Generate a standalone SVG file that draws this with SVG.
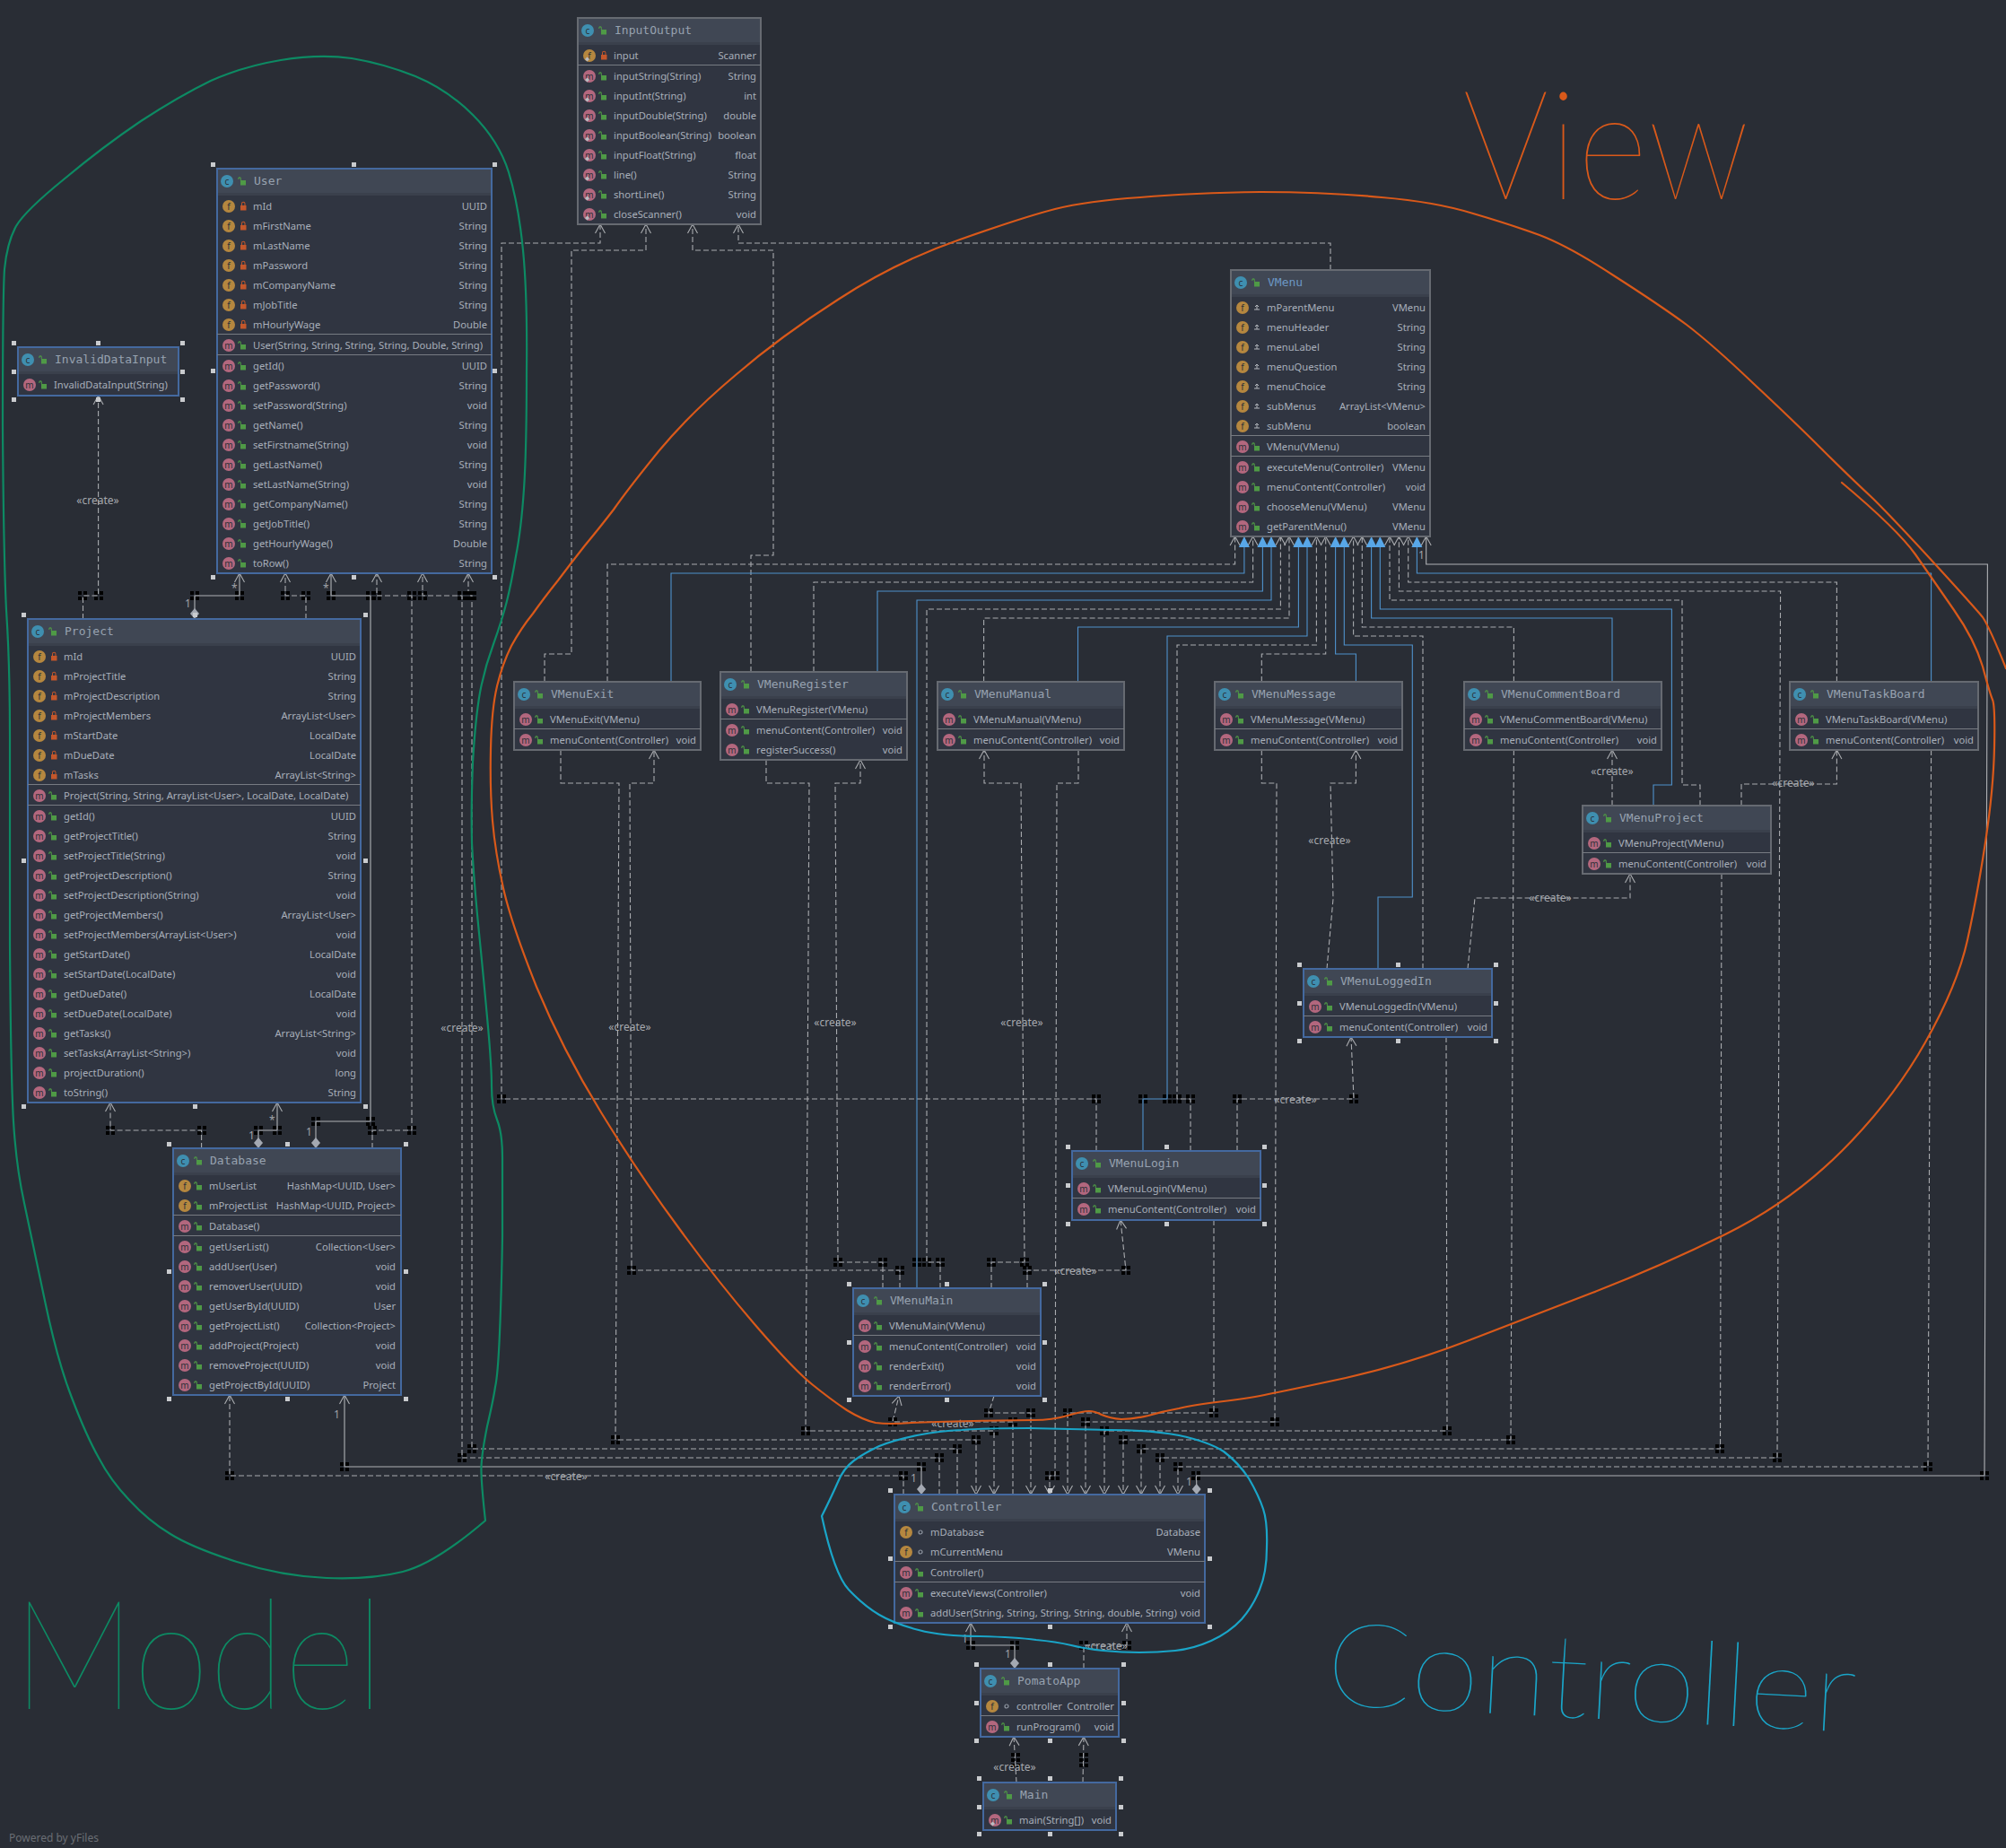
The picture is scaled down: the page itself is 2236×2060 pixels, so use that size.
<svg xmlns="http://www.w3.org/2000/svg" width="2236" height="2060" viewBox="0 0 2236 2060">
<style>
text{font-family:"Noto Sans","Liberation Sans",sans-serif;font-size:11.2px;fill:#a8afba}
.v{text-anchor:end}
.h{font-family:"DejaVu Sans Mono","Liberation Mono",monospace;font-size:13px;fill:#97a2b0}
.ic{font-size:10px;text-anchor:middle;fill:#2b3038}
.n{fill:#303541;stroke:#666a71;stroke-width:1.2;shape-rendering:crispEdges}
.sel{stroke:#44699f;stroke-width:1.6}
.hd{fill:url(#hg)}
.s{stroke:#777b82;fill:none;stroke-width:1;shape-rendering:crispEdges}
.hs{fill:#c9cbce;shape-rendering:crispEdges}
.da,.bl,.gr{fill:none;stroke-width:1.1}
.da{stroke:#a9abaf;stroke-dasharray:6 3}
.bl{stroke:#4f92cc}
.gr{stroke:#b0b2b6}
.lb{fill:#a0a3a8;font-size:12px}
.cl{text-anchor:middle;font-size:12px;fill:#a6a9ae}
.sk{fill:none;stroke-width:2.2;stroke-linejoin:round;stroke-linecap:round}
.w{font-family:"Lato","Noto Sans",sans-serif;font-weight:100}
</style>
<defs>
<linearGradient id="hg" x1="0" y1="0" x2="0" y2="1"><stop offset="0" stop-color="#404754"/><stop offset=".9" stop-color="#404754"/><stop offset=".9" stop-color="#3a404c"/><stop offset="1" stop-color="#3a404c"/></linearGradient>
<marker id="o" markerUnits="userSpaceOnUse" markerWidth="14" markerHeight="14" refX="11" refY="6" orient="auto-start-reverse" overflow="visible"><path d="M1 0.5L11 6L1 11.5" fill="none" stroke="#a9abaf" stroke-width="1.1"/></marker>
<marker id="t" markerUnits="userSpaceOnUse" markerWidth="14" markerHeight="14" refX="12" refY="6" orient="auto" overflow="visible"><path d="M0 0L12 6L0 12z" fill="#58a7e8"/></marker>
<marker id="d" markerUnits="userSpaceOnUse" markerWidth="14" markerHeight="12" refX="0" refY="5" orient="auto" overflow="visible"><path d="M0 5L6 0L12 5L6 10z" fill="#a4a9b2"/></marker>
<g id="b"><path d="M-5-5h4v4h-4zM1-5h4v4h-4zM-5 1h4v4h-4zM1 1h4v4h-4z" fill="#000"/></g>
<path id="lg" d="M26-1h6v5.500h-6zM26.800-1v-2.300a1.800 1.800 0 0 0-3.500 0v1.300h1v-1.100a.8.8 0 0 1 1.500 0v2.100z" fill="#4f9a46"/>
<path id="lr" d="M26-1h6.500v5.500h-6.500zM27-1v-2a2.200 2.200 0 0 1 4.500 0v2h-1v-2a1.200 1.200 0 0 0-2.500 0v2z" fill="#c4572b"/>
<g id="c"><circle cx="11" cy="14" r="7" fill="#3f8fb0"/><text class="ic" x="11" y="17.500">c</text><use href="#lg" x="0" y="14"/></g>
<g id="m"><circle cx="13" r="7" fill="#b3677e"/><text class="ic" x="13" y="3.500">m</text><use href="#lg"/></g>
<g id="f"><circle cx="13" r="7" fill="#b5873f"/><text class="ic" x="13" y="3.500">f</text><use href="#lr"/></g>
<g id="g"><circle cx="13" r="7" fill="#b5873f"/><text class="ic" x="13" y="3.500">f</text><use href="#lg"/></g>
<g id="e"><circle cx="13" r="7" fill="#b5873f"/><text class="ic" x="13" y="3.500">f</text><circle cx="29" cy="0" r="2" fill="none" stroke="#8f96a1" stroke-width="1.200"/></g>
<g id="q"><circle cx="13" r="7" fill="#b5873f"/><text class="ic" x="13" y="3.500">f</text><path d="M26 2h6M29 2v-5M27-1l2-2 2 2" fill="none" stroke="#b3b7bd" stroke-width="1"/></g>
<path id="st" d="M8 4l2.500-2.500 2.500 2.500-2.500 2.500z" fill="#b9bcc2"/>
</defs>
<rect width="2236" height="2060" fill="#292d35"/>

<g id="connectors">
<g class="da" marker-end="url(#o)">
<path d="M677 760V629H1376.600V598"/><path d="M907 749V649H1396.600V598"/><path d="M1048 1436V1407H1033V679H1427.400V598"/><path d="M1096.600 760V689H1437V598"/><path d="M1327 1283V1225H1312V719H1467.400V598"/><path d="M1406.300 760V729H1477.700V598"/><path d="M1586 1080V709H1508.600V598"/><path d="M1687.400 760V699H1518.300V598"/><path d="M1895 898V875H1875V669H1549V598"/><path d="M2047.400 760V649H1569.700V598"/>
<path d="M1222 1283V1225H559V271H669V250"/><path d="M607 760V729H637V279H720V250"/><path d="M837 749V619H862V279H772V250"/><path d="M1483 301V271H823V250"/>
<path d="M625 836V873H690L686 1605H1088V1666"/><path d="M1003 1436V1416H704L702 873H729V836"/><path d="M854 847V873H902L898 1595H1108V1666"/><path d="M984 1436V1407H934L931 873H959V847"/><path d="M1202 836V873H1178L1176 1645H1170V1666"/><path d="M1105 1436V1407H1142L1138 873H1097V836"/><path d="M1406.300 836V873H1423L1421 1585H1210V1666"/><path d="M1479 1080L1486 1002L1483 873H1511.400V836"/><path d="M1612 1156L1613 1595H1231V1666"/><path d="M1636 1080L1644 1001H1817V974"/><path d="M1379 1283V1225H1509L1506 1156"/><path d="M1687.400 836L1684 1605H1252V1666"/><path d="M1797 898V836"/><path d="M1941 898V874H2047.400V836"/><path d="M1919 974L1917.500 1615H1272V1666"/><path d="M2152.600 836L2149 1635H1313V1666"/><path d="M1353 1360V1575H1190V1666"/><path d="M1145 1436V1416H1255L1249 1360"/><path d="M1108 1556L1102 1575H1149V1666"/><path d="M1129 1666V1585H995L1002 1556"/><path d="M1007 1666V1645H256V1555"/>
<path d="M415 1280V1260H459V664H420V639"/><path d="M224.600 1280V1260H123V1229"/><path d="M341 690V664H318V639"/><path d="M92.500 690V664H109.600V441"/><path d="M1208 1860V1834H1256V1809"/><path d="M1133 1987L1130 1936"/><path d="M1207 1987L1208 1936"/><path d="M1047 1666V1625H515V664H471V639"/><path d="M1067 1666V1615H526V664H522V639"/>
<path d="M1293 1666V1625H1981L1984.600 659H1559.400V598" marker-start="url(#o)"/>
</g>
<g class="bl" marker-end="url(#t)">
<path d="M748 760V639H1386.900V598"/><path d="M978 749V659H1407.400V598"/><path d="M1022 1436V669H1417V598"/><path d="M1201.500 760V699H1447.400V598"/><path d="M1274 1283V1225H1301V709H1457V598"/><path d="M1511.400 760V729H1488.600V598"/><path d="M1536 1080V1000H1574.300V719H1498.300V598"/><path d="M1797 760V689H1528.600V598"/><path d="M1843 898V875H1863.400V679H1538.300V598"/><path d="M2152.600 760V639H1579.400V598"/>
</g>
<g class="gr" marker-start="url(#d)" marker-end="url(#o)">
<path d="M217 690V664H267V639"/><path d="M352 1280V1250H413V664H369V639"/><path d="M288 1280V1260H309V1229"/><path d="M1027 1666V1635H384V1555"/><path d="M1131 1860V1834H1082V1809"/><path d="M1333.700 1666V1645H2212L2215.400 629H1589.700V598"/>
</g>
<g id="bends">
<use href="#b" x="92" y="664"/><use href="#b" x="110" y="664"/><use href="#b" x="217" y="664"/><use href="#b" x="267" y="664"/><use href="#b" x="318" y="664"/><use href="#b" x="341" y="664"/><use href="#b" x="369" y="664"/><use href="#b" x="413" y="664"/><use href="#b" x="420" y="664"/><use href="#b" x="459" y="664"/><use href="#b" x="471" y="664"/><use href="#b" x="515" y="664"/><use href="#b" x="522" y="664"/><use href="#b" x="526" y="664"/>
<use href="#b" x="123" y="1260"/><use href="#b" x="225" y="1260"/><use href="#b" x="288" y="1260"/><use href="#b" x="309" y="1260"/><use href="#b" x="415" y="1260"/><use href="#b" x="459" y="1260"/><use href="#b" x="352" y="1250"/><use href="#b" x="413" y="1250"/>
<use href="#b" x="515" y="1625"/><use href="#b" x="526" y="1615"/><use href="#b" x="384" y="1635"/><use href="#b" x="256" y="1645"/><use href="#b" x="686" y="1605"/><use href="#b" x="898" y="1595"/>
<use href="#b" x="995" y="1585"/><use href="#b" x="1102" y="1575"/><use href="#b" x="1149" y="1575"/><use href="#b" x="1129" y="1585"/><use href="#b" x="1108" y="1595"/><use href="#b" x="1088" y="1605"/><use href="#b" x="1067" y="1615"/><use href="#b" x="1047" y="1625"/><use href="#b" x="1027" y="1635"/><use href="#b" x="1007" y="1645"/><use href="#b" x="1170" y="1645"/><use href="#b" x="1176" y="1645"/><use href="#b" x="1190" y="1575"/><use href="#b" x="1210" y="1585"/><use href="#b" x="1231" y="1595"/><use href="#b" x="1252" y="1605"/><use href="#b" x="1272" y="1615"/><use href="#b" x="1293" y="1625"/><use href="#b" x="1313" y="1635"/><use href="#b" x="1333" y="1645"/><use href="#b" x="1353" y="1575"/><use href="#b" x="1421" y="1585"/>
<use href="#b" x="1613" y="1595"/><use href="#b" x="1684" y="1605"/><use href="#b" x="1917" y="1615"/><use href="#b" x="1981" y="1625"/><use href="#b" x="2149" y="1635"/><use href="#b" x="2212" y="1645"/>
<use href="#b" x="559" y="1225"/><use href="#b" x="1222" y="1225"/><use href="#b" x="1274" y="1225"/><use href="#b" x="1301" y="1225"/><use href="#b" x="1312" y="1225"/><use href="#b" x="1327" y="1225"/><use href="#b" x="1379" y="1225"/><use href="#b" x="1509" y="1225"/><use href="#b" x="1255" y="1416"/>
<use href="#b" x="704" y="1416"/><use href="#b" x="1003" y="1416"/><use href="#b" x="934" y="1407"/><use href="#b" x="984" y="1407"/><use href="#b" x="1022" y="1407"/><use href="#b" x="1033" y="1407"/><use href="#b" x="1048" y="1407"/><use href="#b" x="1105" y="1407"/><use href="#b" x="1142" y="1407"/><use href="#b" x="1145" y="1416"/>
<use href="#b" x="1082" y="1834"/><use href="#b" x="1131" y="1834"/><use href="#b" x="1208" y="1834"/><use href="#b" x="1256" y="1834"/><use href="#b" x="1132" y="1959"/><use href="#b" x="1132" y="1965"/><use href="#b" x="1208" y="1959"/><use href="#b" x="1208" y="1965"/>
</g>
<g id="edge-labels">
<text class="cl" x="109" y="562">«create»</text><text class="cl" x="515" y="1150">«create»</text><text class="cl" x="702" y="1149">«create»</text><text class="cl" x="931" y="1144">«create»</text><text class="cl" x="1139" y="1144">«create»</text><text class="cl" x="1482" y="941">«create»</text><text class="cl" x="1797" y="864">«create»</text><text class="cl" x="1999" y="877">«create»</text><text class="cl" x="1728" y="1005">«create»</text><text class="cl" x="1444" y="1230">«create»</text><text class="cl" x="1199" y="1421">«create»</text><text class="cl" x="1062" y="1591">«create»</text><text class="cl" x="631" y="1650">«create»</text><text class="cl" x="1233" y="1839">«create»</text><text class="cl" x="1131" y="1974">«create»</text>
<text class="lb" x="258" y="660">*</text><text class="lb" x="206" y="677">1</text><text class="lb" x="360" y="660">*</text><text class="lb" x="341" y="1266">1</text><text class="lb" x="300" y="1253">*</text><text class="lb" x="277" y="1270">1</text><text class="lb" x="372" y="1581">1</text><text class="lb" x="1015" y="1652">1</text><text class="lb" x="1322" y="1656">1</text><text class="lb" x="1072" y="1831">1</text><text class="lb" x="1120" y="1848">1</text><text class="lb" x="1581" y="623">1</text>
</g>
</g>

<g id="InputOutput" transform="translate(644 20)"><rect class="n" width="204" height="230"/><rect class="hd" x="1" y="1" width="202" height="29"/><path class="s" d="M0 52H204"/><use href="#c"/><text class="h" x="41" y="18">InputOutput</text>
<use href="#f" y="42"/><use href="#st" y="42"/><text x="40" y="46">input</text><text class="v" x="199" y="46">Scanner</text>
<use href="#m" y="65"/><use href="#st" y="65"/><text x="40" y="69">inputString(String)</text><text class="v" x="199" y="69">String</text>
<use href="#m" y="87"/><use href="#st" y="87"/><text x="40" y="91">inputInt(String)</text><text class="v" x="199" y="91">int</text>
<use href="#m" y="109"/><use href="#st" y="109"/><text x="40" y="113">inputDouble(String)</text><text class="v" x="199" y="113">double</text>
<use href="#m" y="131"/><use href="#st" y="131"/><text x="40" y="135">inputBoolean(String)</text><text class="v" x="199" y="135">boolean</text>
<use href="#m" y="153"/><use href="#st" y="153"/><text x="40" y="157">inputFloat(String)</text><text class="v" x="199" y="157">float</text>
<use href="#m" y="175"/><use href="#st" y="175"/><text x="40" y="179">line()</text><text class="v" x="199" y="179">String</text>
<use href="#m" y="197"/><use href="#st" y="197"/><text x="40" y="201">shortLine()</text><text class="v" x="199" y="201">String</text>
<use href="#m" y="219"/><use href="#st" y="219"/><text x="40" y="223">closeScanner()</text><text class="v" x="199" y="223">void</text>
</g>

<g id="User" transform="translate(242 188)"><rect class="n sel" width="306" height="451"/><rect class="hd" x="1" y="1" width="304" height="29"/><path class="s" d="M0 184H306M0 207H306"/><use href="#c"/><text class="h" x="41" y="18">User</text>
<path class="hs" d="M-7-7h5v5h-5zM150-7h5v5h-5zM307-7h5v5h-5zM-7 223h5v5h-5zM307 223h5v5h-5zM-7 453h5v5h-5zM150 453h5v5h-5zM307 453h5v5h-5z"/>
<use href="#f" y="42"/><text x="40" y="46">mId</text><text class="v" x="301" y="46">UUID</text>
<use href="#f" y="64"/><text x="40" y="68">mFirstName</text><text class="v" x="301" y="68">String</text>
<use href="#f" y="86"/><text x="40" y="90">mLastName</text><text class="v" x="301" y="90">String</text>
<use href="#f" y="108"/><text x="40" y="112">mPassword</text><text class="v" x="301" y="112">String</text>
<use href="#f" y="130"/><text x="40" y="134">mCompanyName</text><text class="v" x="301" y="134">String</text>
<use href="#f" y="152"/><text x="40" y="156">mJobTitle</text><text class="v" x="301" y="156">String</text>
<use href="#f" y="174"/><text x="40" y="178">mHourlyWage</text><text class="v" x="301" y="178">Double</text>
<use href="#m" y="197"/><text x="40" y="201">User(String, String, String, String, Double, String)</text>
<use href="#m" y="220"/><text x="40" y="224">getId()</text><text class="v" x="301" y="224">UUID</text>
<use href="#m" y="242"/><text x="40" y="246">getPassword()</text><text class="v" x="301" y="246">String</text>
<use href="#m" y="264"/><text x="40" y="268">setPassword(String)</text><text class="v" x="301" y="268">void</text>
<use href="#m" y="286"/><text x="40" y="290">getName()</text><text class="v" x="301" y="290">String</text>
<use href="#m" y="308"/><text x="40" y="312">setFirstname(String)</text><text class="v" x="301" y="312">void</text>
<use href="#m" y="330"/><text x="40" y="334">getLastName()</text><text class="v" x="301" y="334">String</text>
<use href="#m" y="352"/><text x="40" y="356">setLastName(String)</text><text class="v" x="301" y="356">void</text>
<use href="#m" y="374"/><text x="40" y="378">getCompanyName()</text><text class="v" x="301" y="378">String</text>
<use href="#m" y="396"/><text x="40" y="400">getJobTitle()</text><text class="v" x="301" y="400">String</text>
<use href="#m" y="418"/><text x="40" y="422">getHourlyWage()</text><text class="v" x="301" y="422">Double</text>
<use href="#m" y="440"/><text x="40" y="444">toRow()</text><text class="v" x="301" y="444">String</text>
</g>

<g id="InvalidDataInput" transform="translate(20 387)"><rect class="n sel" width="179" height="54"/><rect class="hd" x="1" y="1" width="177" height="29"/><use href="#c"/><text class="h" x="41" y="18">InvalidDataInput</text>
<path class="hs" d="M-7-7h5v5h-5zM87-7h5v5h-5zM181-7h5v5h-5zM-7 25h5v5h-5zM181 25h5v5h-5zM-7 56h5v5h-5zM87 56h5v5h-5zM181 56h5v5h-5z"/>
<use href="#m" y="42"/><text x="40" y="46">InvalidDataInput(String)</text>
</g>

<g id="Project" transform="translate(31 690)"><rect class="n sel" width="371" height="539"/><rect class="hd" x="1" y="1" width="369" height="29"/><path class="s" d="M0 184H371M0 207H371"/><use href="#c"/><text class="h" x="41" y="18">Project</text>
<path class="hs" d="M-7-7h5v5h-5zM184-7h5v5h-5zM374-7h5v5h-5zM-7 267h5v5h-5zM374 267h5v5h-5zM-7 541h5v5h-5zM184 541h5v5h-5zM374 541h5v5h-5z"/>
<use href="#f" y="42"/><text x="40" y="46">mId</text><text class="v" x="366" y="46">UUID</text>
<use href="#f" y="64"/><text x="40" y="68">mProjectTitle</text><text class="v" x="366" y="68">String</text>
<use href="#f" y="86"/><text x="40" y="90">mProjectDescription</text><text class="v" x="366" y="90">String</text>
<use href="#f" y="108"/><text x="40" y="112">mProjectMembers</text><text class="v" x="366" y="112">ArrayList&lt;User&gt;</text>
<use href="#f" y="130"/><text x="40" y="134">mStartDate</text><text class="v" x="366" y="134">LocalDate</text>
<use href="#f" y="152"/><text x="40" y="156">mDueDate</text><text class="v" x="366" y="156">LocalDate</text>
<use href="#f" y="174"/><text x="40" y="178">mTasks</text><text class="v" x="366" y="178">ArrayList&lt;String&gt;</text>
<use href="#m" y="197"/><text x="40" y="201">Project(String, String, ArrayList&lt;User&gt;, LocalDate, LocalDate)</text>
<use href="#m" y="220"/><text x="40" y="224">getId()</text><text class="v" x="366" y="224">UUID</text>
<use href="#m" y="242"/><text x="40" y="246">getProjectTitle()</text><text class="v" x="366" y="246">String</text>
<use href="#m" y="264"/><text x="40" y="268">setProjectTitle(String)</text><text class="v" x="366" y="268">void</text>
<use href="#m" y="286"/><text x="40" y="290">getProjectDescription()</text><text class="v" x="366" y="290">String</text>
<use href="#m" y="308"/><text x="40" y="312">setProjectDescription(String)</text><text class="v" x="366" y="312">void</text>
<use href="#m" y="330"/><text x="40" y="334">getProjectMembers()</text><text class="v" x="366" y="334">ArrayList&lt;User&gt;</text>
<use href="#m" y="352"/><text x="40" y="356">setProjectMembers(ArrayList&lt;User&gt;)</text><text class="v" x="366" y="356">void</text>
<use href="#m" y="374"/><text x="40" y="378">getStartDate()</text><text class="v" x="366" y="378">LocalDate</text>
<use href="#m" y="396"/><text x="40" y="400">setStartDate(LocalDate)</text><text class="v" x="366" y="400">void</text>
<use href="#m" y="418"/><text x="40" y="422">getDueDate()</text><text class="v" x="366" y="422">LocalDate</text>
<use href="#m" y="440"/><text x="40" y="444">setDueDate(LocalDate)</text><text class="v" x="366" y="444">void</text>
<use href="#m" y="462"/><text x="40" y="466">getTasks()</text><text class="v" x="366" y="466">ArrayList&lt;String&gt;</text>
<use href="#m" y="484"/><text x="40" y="488">setTasks(ArrayList&lt;String&gt;)</text><text class="v" x="366" y="488">void</text>
<use href="#m" y="506"/><text x="40" y="510">projectDuration()</text><text class="v" x="366" y="510">long</text>
<use href="#m" y="528"/><text x="40" y="532">toString()</text><text class="v" x="366" y="532">String</text>
</g>

<g id="Database" transform="translate(193 1280)"><rect class="n sel" width="254" height="275"/><rect class="hd" x="1" y="1" width="252" height="29"/><path class="s" d="M0 74H254M0 97H254"/><use href="#c"/><text class="h" x="41" y="18">Database</text>
<path class="hs" d="M-7-7h5v5h-5zM125-7h5v5h-5zM257-7h5v5h-5zM-7 135h5v5h-5zM257 135h5v5h-5zM-7 277h5v5h-5zM125 277h5v5h-5zM257 277h5v5h-5z"/>
<use href="#g" y="42"/><text x="40" y="46">mUserList</text><text class="v" x="248" y="46">HashMap&lt;UUID, User&gt;</text>
<use href="#g" y="64"/><text x="40" y="68">mProjectList</text><text class="v" x="248" y="68">HashMap&lt;UUID, Project&gt;</text>
<use href="#m" y="87"/><text x="40" y="91">Database()</text>
<use href="#m" y="110"/><text x="40" y="114">getUserList()</text><text class="v" x="248" y="114">Collection&lt;User&gt;</text>
<use href="#m" y="132"/><text x="40" y="136">addUser(User)</text><text class="v" x="248" y="136">void</text>
<use href="#m" y="154"/><text x="40" y="158">removerUser(UUID)</text><text class="v" x="248" y="158">void</text>
<use href="#m" y="176"/><text x="40" y="180">getUserById(UUID)</text><text class="v" x="248" y="180">User</text>
<use href="#m" y="198"/><text x="40" y="202">getProjectList()</text><text class="v" x="248" y="202">Collection&lt;Project&gt;</text>
<use href="#m" y="220"/><text x="40" y="224">addProject(Project)</text><text class="v" x="248" y="224">void</text>
<use href="#m" y="242"/><text x="40" y="246">removeProject(UUID)</text><text class="v" x="248" y="246">void</text>
<use href="#m" y="264"/><text x="40" y="268">getProjectById(UUID)</text><text class="v" x="248" y="268">Project</text>
</g>

<g id="VMenu" transform="translate(1372 301)"><rect class="n" width="222" height="297"/><rect class="hd" x="1" y="1" width="220" height="29"/><path class="s" d="M0 184H222M0 207H222"/><use href="#c"/><text class="h" x="41" y="18" style="fill:#6c97c4">VMenu</text>
<use href="#q" y="42"/><text x="40" y="46">mParentMenu</text><text class="v" x="217" y="46">VMenu</text>
<use href="#q" y="64"/><text x="40" y="68">menuHeader</text><text class="v" x="217" y="68">String</text>
<use href="#q" y="86"/><text x="40" y="90">menuLabel</text><text class="v" x="217" y="90">String</text>
<use href="#q" y="108"/><text x="40" y="112">menuQuestion</text><text class="v" x="217" y="112">String</text>
<use href="#q" y="130"/><text x="40" y="134">menuChoice</text><text class="v" x="217" y="134">String</text>
<use href="#q" y="152"/><text x="40" y="156">subMenus</text><text class="v" x="217" y="156">ArrayList&lt;VMenu&gt;</text>
<use href="#q" y="174"/><text x="40" y="178">subMenu</text><text class="v" x="217" y="178">boolean</text>
<use href="#m" y="197"/><text x="40" y="201">VMenu(VMenu)</text>
<use href="#m" y="220"/><text x="40" y="224">executeMenu(Controller)</text><text class="v" x="217" y="224">VMenu</text>
<use href="#m" y="242"/><text x="40" y="246">menuContent(Controller)</text><text class="v" x="217" y="246">void</text>
<use href="#m" y="264"/><text x="40" y="268">chooseMenu(VMenu)</text><text class="v" x="217" y="268">VMenu</text>
<use href="#m" y="286"/><text x="40" y="290">getParentMenu()</text><text class="v" x="217" y="290">VMenu</text>
</g>

<g id="VMenuExit" transform="translate(573 760)"><rect class="n" width="208" height="76"/><rect class="hd" x="1" y="1" width="206" height="29"/><path class="s" d="M0 52H208"/><use href="#c"/><text class="h" x="41" y="18">VMenuExit</text>
<use href="#m" y="42"/><text x="40" y="46">VMenuExit(VMenu)</text><use href="#m" y="65"/><text x="40" y="69">menuContent(Controller)</text><text class="v" x="203" y="69">void</text></g>

<g id="VMenuRegister" transform="translate(803 749)"><rect class="n" width="208" height="98"/><rect class="hd" x="1" y="1" width="206" height="29"/><path class="s" d="M0 52H208"/><use href="#c"/><text class="h" x="41" y="18">VMenuRegister</text>
<use href="#m" y="42"/><text x="40" y="46">VMenuRegister(VMenu)</text><use href="#m" y="65"/><text x="40" y="69">menuContent(Controller)</text><text class="v" x="203" y="69">void</text><use href="#m" y="87"/><text x="40" y="91">registerSuccess()</text><text class="v" x="203" y="91">void</text></g>

<g id="VMenuManual" transform="translate(1045 760)"><rect class="n" width="208" height="76"/><rect class="hd" x="1" y="1" width="206" height="29"/><path class="s" d="M0 52H208"/><use href="#c"/><text class="h" x="41" y="18">VMenuManual</text>
<use href="#m" y="42"/><text x="40" y="46">VMenuManual(VMenu)</text><use href="#m" y="65"/><text x="40" y="69">menuContent(Controller)</text><text class="v" x="203" y="69">void</text></g>

<g id="VMenuMessage" transform="translate(1354 760)"><rect class="n" width="209" height="76"/><rect class="hd" x="1" y="1" width="207" height="29"/><path class="s" d="M0 52H209"/><use href="#c"/><text class="h" x="41" y="18">VMenuMessage</text>
<use href="#m" y="42"/><text x="40" y="46">VMenuMessage(VMenu)</text><use href="#m" y="65"/><text x="40" y="69">menuContent(Controller)</text><text class="v" x="204" y="69">void</text></g>

<g id="VMenuCommentBoard" transform="translate(1632 760)"><rect class="n" width="220" height="76"/><rect class="hd" x="1" y="1" width="218" height="29"/><path class="s" d="M0 52H220"/><use href="#c"/><text class="h" x="41" y="18">VMenuCommentBoard</text>
<use href="#m" y="42"/><text x="40" y="46">VMenuCommentBoard(VMenu)</text><use href="#m" y="65"/><text x="40" y="69">menuContent(Controller)</text><text class="v" x="215" y="69">void</text></g>

<g id="VMenuTaskBoard" transform="translate(1995 760)"><rect class="n" width="210" height="76"/><rect class="hd" x="1" y="1" width="208" height="29"/><path class="s" d="M0 52H210"/><use href="#c"/><text class="h" x="41" y="18">VMenuTaskBoard</text>
<use href="#m" y="42"/><text x="40" y="46">VMenuTaskBoard(VMenu)</text><use href="#m" y="65"/><text x="40" y="69">menuContent(Controller)</text><text class="v" x="205" y="69">void</text></g>

<g id="VMenuProject" transform="translate(1764 898)"><rect class="n" width="210" height="76"/><rect class="hd" x="1" y="1" width="208" height="29"/><path class="s" d="M0 52H210"/><use href="#c"/><text class="h" x="41" y="18">VMenuProject</text>
<use href="#m" y="42"/><text x="40" y="46">VMenuProject(VMenu)</text><use href="#m" y="65"/><text x="40" y="69">menuContent(Controller)</text><text class="v" x="205" y="69">void</text></g>

<g id="VMenuLoggedIn" transform="translate(1453 1080)"><rect class="n sel" width="210" height="76"/><rect class="hd" x="1" y="1" width="208" height="29"/><path class="s" d="M0 52H210"/><use href="#c"/><text class="h" x="41" y="18">VMenuLoggedIn</text>
<path class="hs" d="M-7-7h5v5h-5zM103-7h5v5h-5zM212-7h5v5h-5zM-7 36h5v5h-5zM212 36h5v5h-5zM-7 78h5v5h-5zM103 78h5v5h-5zM212 78h5v5h-5z"/>
<use href="#m" y="42"/><text x="40" y="46">VMenuLoggedIn(VMenu)</text><use href="#m" y="65"/><text x="40" y="69">menuContent(Controller)</text><text class="v" x="205" y="69">void</text></g>

<g id="VMenuLogin" transform="translate(1195 1283)"><rect class="n sel" width="210" height="77"/><rect class="hd" x="1" y="1" width="208" height="29"/><path class="s" d="M0 52H210"/><use href="#c"/><text class="h" x="41" y="18">VMenuLogin</text>
<path class="hs" d="M-7-7h5v5h-5zM103-7h5v5h-5zM212-7h5v5h-5zM-7 36h5v5h-5zM212 36h5v5h-5zM-7 79h5v5h-5zM103 79h5v5h-5zM212 79h5v5h-5z"/>
<use href="#m" y="42"/><text x="40" y="46">VMenuLogin(VMenu)</text><use href="#m" y="65"/><text x="40" y="69">menuContent(Controller)</text><text class="v" x="205" y="69">void</text></g>

<g id="VMenuMain" transform="translate(951 1436)"><rect class="n sel" width="209" height="120"/><rect class="hd" x="1" y="1" width="207" height="29"/><path class="s" d="M0 52H209"/><use href="#c"/><text class="h" x="41" y="18">VMenuMain</text>
<path class="hs" d="M-7-7h5v5h-5zM102-7h5v5h-5zM211-7h5v5h-5zM-7 58h5v5h-5zM211 58h5v5h-5zM-7 122h5v5h-5zM102 122h5v5h-5zM211 122h5v5h-5z"/>
<use href="#m" y="42"/><text x="40" y="46">VMenuMain(VMenu)</text><use href="#m" y="65"/><text x="40" y="69">menuContent(Controller)</text><text class="v" x="204" y="69">void</text><use href="#m" y="87"/><text x="40" y="91">renderExit()</text><text class="v" x="204" y="91">void</text><use href="#m" y="109"/><text x="40" y="113">renderError()</text><text class="v" x="204" y="113">void</text></g>

<g id="Controller" transform="translate(997 1666)"><rect class="n sel" width="346" height="143"/><rect class="hd" x="1" y="1" width="344" height="29"/><path class="s" d="M0 74H346M0 97H346"/><use href="#c"/><text class="h" x="41" y="18">Controller</text>
<path class="hs" d="M-7-7h5v5h-5zM171-7h5v5h-5zM349-7h5v5h-5zM-7 69h5v5h-5zM349 69h5v5h-5zM-7 145h5v5h-5zM171 145h5v5h-5zM349 145h5v5h-5z"/>
<use href="#e" y="42"/><text x="40" y="46">mDatabase</text><text class="v" x="341" y="46">Database</text>
<use href="#e" y="64"/><text x="40" y="68">mCurrentMenu</text><text class="v" x="341" y="68">VMenu</text>
<use href="#m" y="87"/><text x="40" y="91">Controller()</text>
<use href="#m" y="110"/><text x="40" y="114">executeViews(Controller)</text><text class="v" x="341" y="114">void</text>
<use href="#m" y="132"/><text x="40" y="136">addUser(String, String, String, String, double, String)</text><text class="v" x="341" y="136">void</text></g>

<g id="PomatoApp" transform="translate(1093 1860)"><rect class="n sel" width="154" height="76"/><rect class="hd" x="1" y="1" width="152" height="29"/><path class="s" d="M0 52H154"/><use href="#c"/><text class="h" x="41" y="18">PomatoApp</text>
<path class="hs" d="M-7-7h5v5h-5zM75-7h5v5h-5zM157-7h5v5h-5zM-7 36h5v5h-5zM157 36h5v5h-5zM-7 78h5v5h-5zM75 78h5v5h-5zM157 78h5v5h-5z"/>
<use href="#e" y="42"/><text x="40" y="46">controller</text><text class="v" x="149" y="46">Controller</text><use href="#m" y="65"/><text x="40" y="69">runProgram()</text><text class="v" x="149" y="69">void</text></g>

<g id="Main" transform="translate(1096 1987)"><rect class="n sel" width="148" height="53"/><rect class="hd" x="1" y="1" width="146" height="29"/><use href="#c"/><text class="h" x="41" y="18">Main</text>
<path class="hs" d="M-7-7h5v5h-5zM72-7h5v5h-5zM151-7h5v5h-5zM-7 25h5v5h-5zM151 25h5v5h-5zM-7 55h5v5h-5zM72 55h5v5h-5zM151 55h5v5h-5z"/>
<use href="#m" y="42"/><use href="#st" y="42"/><text x="40" y="46">main(String[])</text><text class="v" x="143" y="46">void</text></g>

<path class="sk" stroke="#0d8a63" d="M541 1695Q536 1650 536.500 1635Q537 1620 543 1590Q550 1560 552 1546Q555 1533 557 1486Q559 1440 560 1378Q560 1317 560 1290Q560 1263 554 1248Q548 1233 548 1211Q548 1190 544 1145Q540 1100 534 1040Q528 980 526 940Q525 900 527 850Q530 800 535 772Q540 745 550 718Q560 690 565 670Q570 650 575 620Q581 590 584 545Q587 500 587 415Q588 330 583 279Q578 228 567 192Q556 157 527 128Q499 100 463 85Q428 71 392 65Q356 60 313 67Q271 74 235 90Q200 107 157 135Q114 164 71 200Q28 235 18 252Q8 270 5 300Q3 330 3 475Q4 620 7 680Q11 740 11 820Q11 900 11 1050Q12 1200 15 1250Q18 1300 27 1341Q36 1383 50 1450Q64 1517 80 1558Q96 1600 110 1625Q123 1650 144 1672Q165 1695 190 1710Q214 1725 264 1741Q314 1757 364 1759Q413 1761 449 1752Q485 1743 541 1695"/>
<path class="sk" stroke="#d9591a" d="M2236 745Q2218 700 2210 688Q2201 677 2158 630Q2115 583 2088 556Q2060 530 2030 500Q2000 470 1955 428Q1910 385 1880 362Q1850 340 1800 308Q1750 275 1716 262Q1683 250 1642 238Q1600 225 1540 220Q1480 214 1405 214Q1330 215 1271 220Q1212 224 1176 233Q1141 242 1070 267Q998 292 934 334Q870 375 820 418Q770 460 735 502Q700 545 684 568Q667 590 652 608Q637 627 622 647Q606 667 594 684Q581 700 570 720Q560 740 554 765Q548 790 547 835Q546 880 549 915Q552 950 561 990Q570 1030 598 1100Q627 1170 670 1240Q713 1310 756 1368Q798 1426 841 1476Q884 1526 905 1543Q926 1560 944 1572Q962 1583 976 1586Q991 1588 1016 1586Q1040 1585 1085 1584Q1130 1583 1152 1583Q1173 1583 1190 1578Q1207 1573 1214 1573Q1220 1573 1228 1577Q1237 1581 1250 1582Q1263 1582 1280 1578Q1297 1573 1314 1570Q1330 1566 1364 1562Q1397 1558 1414 1554Q1430 1551 1500 1536Q1570 1520 1635 1495Q1700 1470 1775 1441Q1850 1412 1923 1376Q1996 1340 2053 1283Q2110 1226 2146 1162Q2182 1098 2193 1048Q2204 998 2213 939Q2222 880 2223 833Q2224 787 2221 780Q2218 773 2210 743Q2201 713 2178 680Q2155 647 2135 618Q2115 590 2053 538"/>
<path class="sk" stroke="#1aa5c8" d="M916 1690Q927 1668 934 1652Q940 1637 952 1628Q963 1620 980 1612Q997 1605 1022 1600Q1047 1595 1072 1594Q1097 1592 1147 1592Q1197 1593 1238 1594Q1280 1594 1314 1600Q1347 1607 1364 1618Q1380 1630 1392 1648Q1403 1667 1408 1682Q1413 1697 1412 1725Q1412 1753 1404 1772Q1397 1790 1384 1805Q1370 1820 1350 1829Q1330 1838 1310 1840Q1290 1842 1270 1842Q1250 1842 1230 1840Q1210 1838 1194 1834Q1177 1830 1155 1828Q1133 1825 1092 1824Q1050 1824 1024 1817Q997 1810 980 1800Q963 1790 946 1772Q930 1755 916 1690"/>
<text class="w" x="1630" y="222" textLength="320" lengthAdjust="spacingAndGlyphs" style="font-size:170px;fill:#d9591a">View</text>
<text class="w" x="14" y="1905" textLength="414" lengthAdjust="spacingAndGlyphs" style="font-size:170px;fill:#0d8a63">Model</text>
<text class="w" x="1476" y="1900" transform="rotate(3 1476 1900)" textLength="592" lengthAdjust="spacingAndGlyphs" style="font-size:130px;fill:#1aa5c8">Controller</text>
<text x="10" y="2053" style="fill:#6a6e74;font-size:12px">Powered by yFiles</text>
</svg>
